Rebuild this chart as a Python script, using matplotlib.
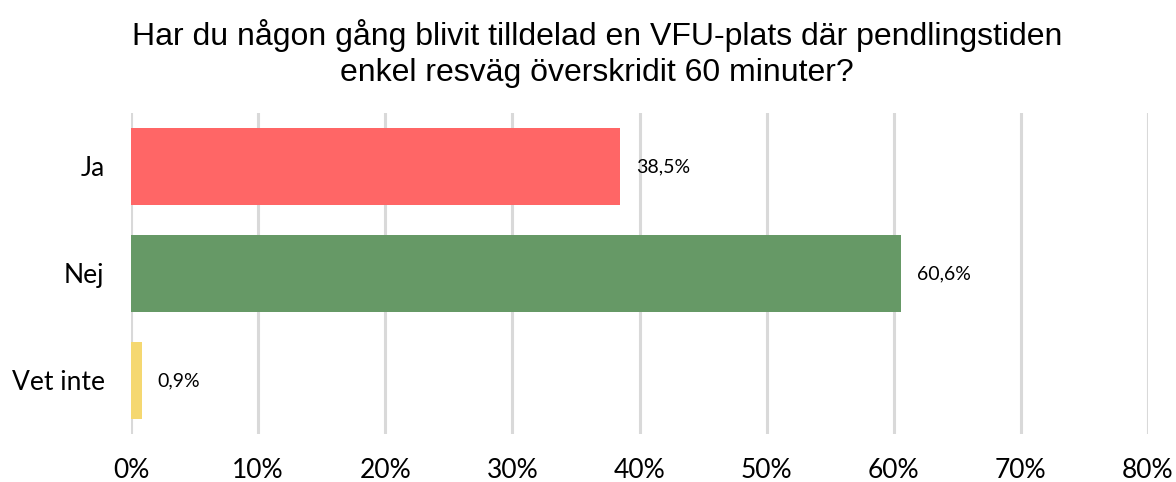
import matplotlib
matplotlib.use("Agg")
import matplotlib.pyplot as plt

categories = ["Ja", "Nej", "Vet inte"]
values = [38.5, 60.6, 0.9]
colors = ["#FF6666", "#669966", "#F5D871"]
xticks = [0, 10, 20, 30, 40, 50, 60, 70, 80]

title = "Har du någon gång blivit tilldelad en VFU-plats där pendlingstiden\nenkel resväg överskridit 60 minuter?"

fig = plt.figure(figsize=(11.76, 4.82), dpi=100)
ax = fig.add_axes([131 / 1176, 1 - 434 / 482, (1148 - 131) / 1176, (434 - 113) / 482])

ypos = list(range(len(categories)))
ax.barh(ypos, values, height=0.72, color=colors, zorder=2)

for y, v in zip(ypos, values):
    ax.text(v + 1.2, y, "{:.1f}%".format(v).replace(".", ","), va="center", ha="left",
            fontsize=14, fontfamily="Lato", color="#000000")

ax.set_xlim(0, 80)
ax.set_ylim(2.5, -0.5)
ax.set_xticks(xticks)
ax.set_xticklabels(["{}%".format(t) for t in xticks], fontsize=19, fontfamily="Lato")
ax.set_yticks(ypos)
ax.set_yticklabels(categories, fontsize=19, fontfamily="Lato")
ax.tick_params(axis="both", length=0)
ax.tick_params(axis="x", pad=17)
ax.tick_params(axis="y", pad=19)
ax.grid(axis="x", color="#D9D9D9", linewidth=2.2, zorder=0)
ax.set_axisbelow(True)

for spine in ["left", "top", "right", "bottom"]:
    ax.spines[spine].set_visible(False)

fig.text(597 / 1176, 1 - 88 / 482, title, ha="center", va="bottom", fontsize=23,
         fontfamily="Liberation Sans", linespacing=1.25)

fig.savefig("out.png", dpi=100)
